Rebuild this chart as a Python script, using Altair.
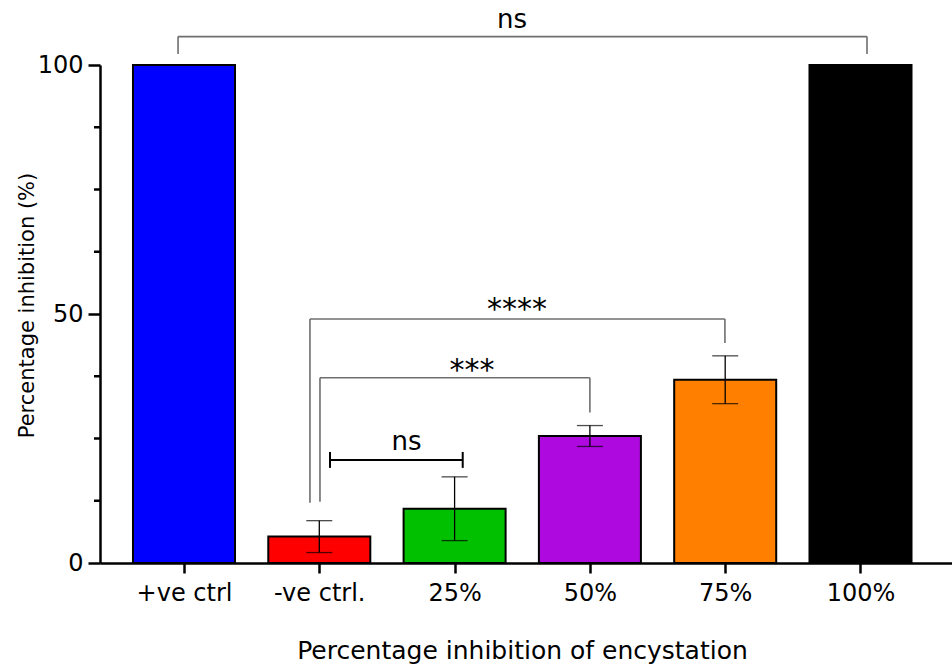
import altair as alt
import pandas as pd

# Groups and their mean / SD inhibition values (%)
groups = ["+ve ctrl", "-ve ctrl.", "25%", "50%", "75%", "100%"]
positions = [1, 2, 3, 4, 5, 6]
means = [100, 5.3, 10.9, 25.5, 36.8, 100]
sds = [0, 3.2, 6.4, 2.1, 4.8, 0]
colors = ["#0000FF", "#FF0000", "#00C000", "#AE0AE0", "#FF8000", "#000000"]

# Open significance brackets: left x, right x, bar level, foot of left leg, foot of right leg
br_x1 = [0.956, 1.931, 2.005]
br_x2 = [6.048, 4.998, 4.000]
br_y = [105.7, 49.0, 37.2]
br_foot1 = [102.2, 12.1, 12.3]
br_foot2 = [102.2, 44.2, 30.2]

# Capped comparison bar (-ve ctrl. vs 25%)
cap_x = [2.079, 3.060]
cap_y = 20.7
cap_half = 1.6

# Significance labels
sig_text = ["ns", "****", "***", "ns"]
sig_x = [3.424, 3.462, 3.129, 2.644]
sig_y = [107.4, 49.0, 36.7, 22.7]
sig_size = [26, 30, 30, 26]

y_major = [0, 50, 100]
y_minor = [12.5, 25, 37.5, 62.5, 75, 87.5]

FONT = "DejaVu Sans"
BAR_HALF = 0.377

bars = pd.DataFrame({"group": groups, "pos": positions, "mean": means, "sd": sds})
bars["x_lo"] = bars["pos"] - BAR_HALF
bars["x_hi"] = bars["pos"] + BAR_HALF
bars["zero"] = 0.0
err = bars[bars["sd"] > 0].copy()
err["lo"] = err["mean"] - err["sd"]
err["hi"] = err["mean"] + err["sd"]

seg_rows = []
for x1, x2, y, f1, f2 in zip(br_x1, br_x2, br_y, br_foot1, br_foot2):
    seg_rows.append({"xa": x1, "xb": x2, "ya": y, "yb": y})
    seg_rows.append({"xa": x1, "xb": x1, "ya": f1, "yb": y})
    seg_rows.append({"xa": x2, "xb": x2, "ya": f2, "yb": y})
segs = pd.DataFrame(seg_rows)

cap_rows = [
    {"xa": cap_x[0], "xb": cap_x[1], "ya": cap_y, "yb": cap_y},
    {"xa": cap_x[0], "xb": cap_x[0], "ya": cap_y - cap_half, "yb": cap_y + cap_half},
    {"xa": cap_x[1], "xb": cap_x[1], "ya": cap_y - cap_half, "yb": cap_y + cap_half},
]
caps = pd.DataFrame(cap_rows)

labels = pd.DataFrame({"t": sig_text, "x": sig_x, "y": sig_y, "fs": sig_size})
minor = pd.DataFrame({"v": y_minor})

xscale = alt.Scale(domain=[0.3792, 6.6763], nice=False, zero=False)
yscale = alt.Scale(domain=[0, 100], nice=False, zero=False)

label_array = "[" + ",".join("'" + g + "'" for g in groups) + "]"

x_axis = alt.Axis(
    values=positions,
    labelExpr=f"{label_array}[datum.value - 1]",
    title="Percentage inhibition of encystation",
    titleFont=FONT, titleFontSize=25, titleFontWeight="normal", titleColor="black",
    titleX=422, titleY=95, titleAlign="center", titleBaseline="alphabetic",
    labelFont=FONT, labelFontSize=24, labelColor="black",
    labelBaseline="alphabetic", labelPadding=27, labelAlign="center",
    tickSize=10, tickWidth=2.5, tickColor="black",
    domainWidth=2.5, domainColor="black", grid=False,
)
y_axis = alt.Axis(
    values=y_major,
    title="Percentage inhibition (%)",
    titleFont=FONT, titleFontSize=21, titleFontWeight="normal", titleColor="black",
    titleAngle=270, titleX=-67, titleY=240, titleAlign="center", titleBaseline="alphabetic",
    labelFont=FONT, labelFontSize=24, labelColor="black", labelPadding=5,
    tickSize=12, tickWidth=2.5, tickColor="black",
    domainWidth=2.5, domainColor="black", grid=False,
)

bar_layer = alt.Chart(bars).mark_rect(stroke="black", strokeWidth=2).encode(
    x=alt.X("x_lo:Q", scale=xscale, axis=x_axis),
    x2="x_hi:Q",
    y=alt.Y("mean:Q", scale=yscale, axis=y_axis),
    y2="zero:Q",
    color=alt.Color("group:N", scale=alt.Scale(domain=groups, range=colors), legend=None),
)

minor_ticks = alt.Chart(minor).mark_rule(color="black", strokeWidth=2.5).encode(
    y=alt.Y("v:Q", scale=yscale),
    x=alt.value(-6),
    x2=alt.value(0),
)

err_rule = alt.Chart(err).mark_rule(color="black", strokeWidth=1.3).encode(
    x=alt.X("pos:Q", scale=xscale),
    y=alt.Y("lo:Q", scale=yscale),
    y2="hi:Q",
)

err_caps = alt.Chart(err).transform_fold(["lo", "hi"], as_=["end", "val"]).mark_tick(
    color="black", thickness=1.3, size=26, orient="horizontal"
).encode(
    x=alt.X("pos:Q", scale=xscale),
    y=alt.Y("val:Q", scale=yscale),
)

bracket_layer = alt.Chart(segs).mark_rule(color="#6E6E6E", strokeWidth=1.6).encode(
    x=alt.X("xa:Q", scale=xscale),
    x2="xb:Q",
    y=alt.Y("ya:Q", scale=yscale),
    y2="yb:Q",
)

cap_layer = alt.Chart(caps).mark_rule(color="black", strokeWidth=2).encode(
    x=alt.X("xa:Q", scale=xscale),
    x2="xb:Q",
    y=alt.Y("ya:Q", scale=yscale),
    y2="yb:Q",
)

label_layer = alt.Chart(labels).mark_text(
    font=FONT, color="black", align="center", baseline="alphabetic"
).encode(
    x=alt.X("x:Q", scale=xscale),
    y=alt.Y("y:Q", scale=yscale),
    text="t:N",
    size=alt.Size("fs:Q", scale=None),
)

chart = alt.layer(
    bar_layer, err_rule, err_caps, bracket_layer, cap_layer, label_layer, minor_ticks
).properties(
    width=852,
    height=498,
    autosize=alt.AutoSizeParams(type="none"),
    padding={"left": 100, "top": 65, "right": 0, "bottom": 103},
    background="white",
).configure_view(stroke=None)

chart.save("out.html", embed_options={"renderer": "svg", "actions": False})
